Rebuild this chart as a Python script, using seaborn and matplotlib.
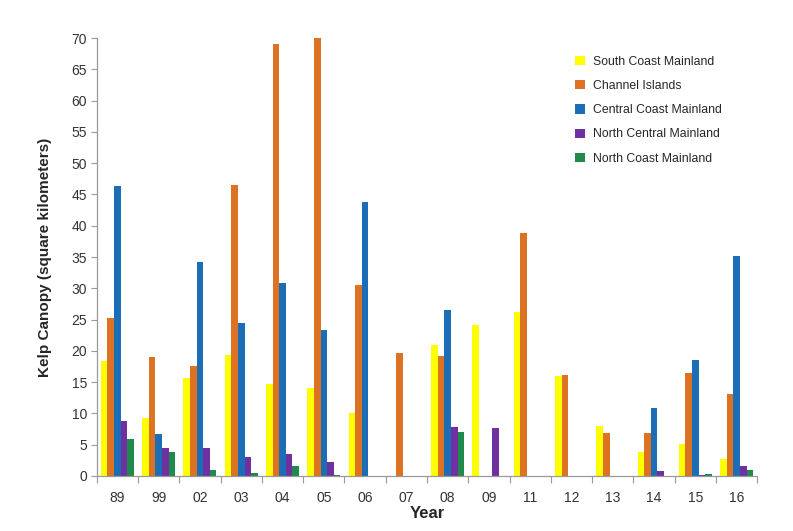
import numpy as np
import pandas as pd
import matplotlib
matplotlib.use('Agg')
import matplotlib.pyplot as plt
import seaborn as sns

# Kelp canopy by region and survey year (square kilometers)
years = ['89', '99', '02', '03', '04', '05', '06', '07', '08', '09', '11', '12', '13', '14', '15', '16']
south_coast = [18.4, 9.2, 15.6, 19.4, 14.7, 14.1, 10.1, 0, 20.9, 24.1, 26.2, 16.0, 8.0, 3.8, 5.1, 2.7]
channel_islands = [25.2, 19.0, 17.6, 46.5, 69.0, 70.0, 30.5, 19.6, 19.1, 0, 38.8, 16.2, 6.8, 6.8, 16.4, 13.1]
central_coast = [46.4, 6.7, 34.2, 24.5, 30.8, 23.4, 43.8, 0, 26.5, 0, 0, 0, 0, 10.8, 18.5, 35.2]
north_central = [8.7, 4.5, 4.4, 3.0, 3.5, 2.2, 0, 0, 7.8, 7.7, 0, 0, 0, 0.8, 0.1, 1.5]
north_coast = [5.9, 3.8, 1.0, 0.4, 1.5, 0.2, 0, 0, 7.0, 0, 0, 0, 0, 0, 0.3, 0.9]

regions = ['South Coast Mainland', 'Channel Islands', 'Central Coast Mainland',
           'North Central Mainland', 'North Coast Mainland']
colors = ['#FFFF00', '#DD7222', '#1B6DB6', '#7030A0', '#1F8A4C']

series = [south_coast, channel_islands, central_coast, north_central, north_coast]
rows = []
for reg, vals in zip(regions, series):
    for yr, v in zip(years, vals):
        rows.append({'Year': yr, 'Region': reg, 'Canopy': v})
df = pd.DataFrame(rows)

sns.set_style('white')
plt.rcParams['font.family'] = ['Liberation Sans', 'DejaVu Sans']

fig = plt.figure(figsize=(7.93, 5.31), dpi=100)
ax = fig.add_axes([0.122, 0.104, 0.833, 0.824])

sns.barplot(data=df, x='Year', y='Canopy', hue='Region', order=years,
            hue_order=regions, palette=colors, width=0.8, saturation=1,
            linewidth=0, ax=ax)

ax.set_xlim(-0.5, len(years) - 0.5)
ax.set_ylim(0, 70)
ax.set_yticks(np.arange(0, 71, 5))
ax.tick_params(axis='y', labelsize=10, labelcolor='#333333', length=4, width=0.8,
               color='#999999', direction='out', left=True, pad=3)
ax.set_xticks(np.arange(len(years)))
ax.set_xticklabels(years)
ax.tick_params(axis='x', which='major', length=0, labelsize=10, labelcolor='#333333', pad=11)
ax.set_xticks(np.arange(len(years) + 1) - 0.5, minor=True)
ax.tick_params(axis='x', which='minor', length=5, width=0.8, color='#999999',
               direction='out', bottom=True)

for side in ['top', 'right']:
    ax.spines[side].set_visible(False)
for side in ['left', 'bottom']:
    ax.spines[side].set_color('#999999')
    ax.spines[side].set_linewidth(0.9)

ax.set_xlabel('Year', fontsize=12, fontweight='bold', labelpad=1)
ax.set_ylabel('Kelp Canopy (square kilometers)', fontsize=11, fontweight='bold', labelpad=14)

ax.legend(loc='upper left', bbox_to_anchor=(0.708, 0.985), frameon=False,
          fontsize=8.8, handlelength=0.8, handleheight=0.8, handletextpad=0.6,
          labelspacing=1.0, title=None)

fig.savefig('out.png', dpi=100)
